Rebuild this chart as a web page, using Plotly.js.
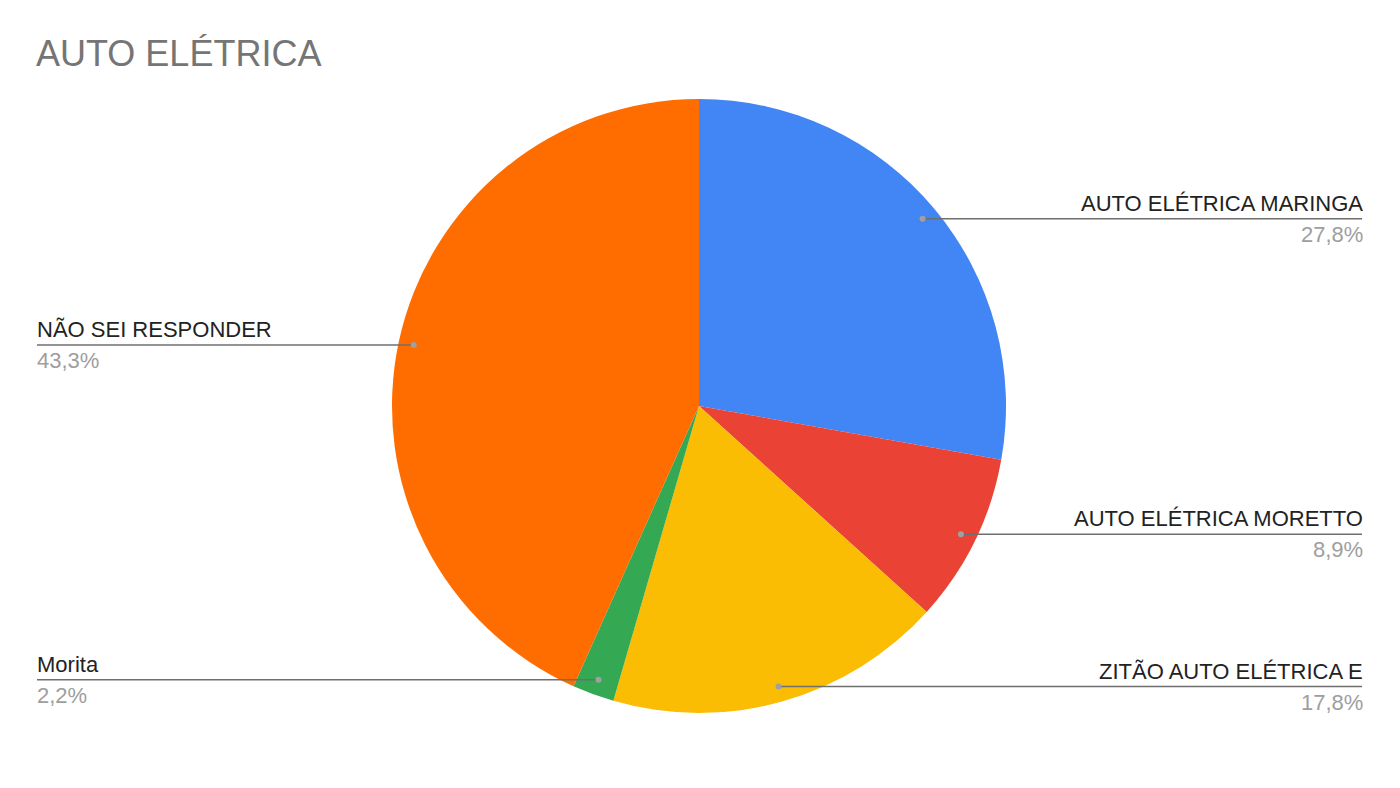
<!DOCTYPE html>
<html>
<head>
<meta charset="utf-8">
<script src="https://cdn.plot.ly/plotly-3.0.1.min.js"></script>
<style>html,body{margin:0;padding:0;background:#fff;}#chart{width:1400px;height:788px;}</style>
</head>
<body>
<div id="chart"></div>
<script>
const categories = ["AUTO ELÉTRICA MARINGA", "AUTO ELÉTRICA MORETTO", "ZITÃO AUTO ELÉTRICA E", "Morita", "NÃO SEI RESPONDER"];
const values = [27.8, 8.9, 17.8, 2.2, 43.3];
const percentLabels = ["27,8%", "8,9%", "17,8%", "2,2%", "43,3%"];
const colors = ["#4285F4", "#EA4335", "#FBBC04", "#34A853", "#FF6D01"];

const W = 1400, H = 788;
const cx = 699, cy = 406, R = 307;
const leftEdge = 37, rightEdge = 1362;
const FONT = "Arial, 'Liberation Sans', sans-serif";

const px = x => x / W;
const py = y => 1 - y / H;

const total = values.reduce((a, b) => a + b, 0);
const annotations = [];
const shapes = [];
let cum = 0;
values.forEach((v, i) => {
  const mid = (cum + v / 2) / total * 2 * Math.PI;
  cum += v;
  const dx = cx + 0.95 * R * Math.sin(mid);
  const dy = cy - 0.95 * R * Math.cos(mid);
  const right = Math.sin(mid) > 0;
  const ex = right ? rightEdge : leftEdge;
  const tx = right ? ex + 3 : ex - 2;
  shapes.push({type: "line", xref: "paper", yref: "paper",
    x0: px(dx), y0: py(dy), x1: px(ex), y1: py(dy),
    line: {color: "#6f6f6f", width: 1.5}});
  shapes.push({type: "circle", xref: "paper", yref: "paper",
    xsizemode: "pixel", ysizemode: "pixel", xanchor: px(dx), yanchor: py(dy),
    x0: -3, x1: 3, y0: -3, y1: 3,
    fillcolor: "#a0a0a0", line: {width: 0}});
  annotations.push({xref: "paper", yref: "paper", x: px(tx), y: py(dy - 1),
    xanchor: right ? "right" : "left", yanchor: "bottom", showarrow: false,
    text: categories[i], font: {family: FONT, size: 22, color: "#222222"}});
  annotations.push({xref: "paper", yref: "paper", x: px(tx), y: py(dy + 1),
    xanchor: right ? "right" : "left", yanchor: "top", showarrow: false,
    text: percentLabels[i], font: {family: FONT, size: 22, color: "#9e9e9e"}});
});

const trace = {
  type: "pie",
  labels: categories,
  values: values,
  sort: false,
  direction: "clockwise",
  rotation: 0,
  marker: {colors: colors, line: {width: 0}},
  textinfo: "none",
  hoverinfo: "label+percent",
  showlegend: false,
  domain: {x: [px(cx - R), px(cx + R)], y: [py(cy + R), py(cy - R)]}
};

const layout = {
  width: W, height: H,
  margin: {l: 0, r: 0, t: 0, b: 0},
  paper_bgcolor: "#ffffff",
  showlegend: false,
  title: {text: "AUTO ELÉTRICA", x: px(36), xanchor: "left", xref: "paper",
    y: py(53), yanchor: "middle", yref: "paper",
    font: {family: FONT, size: 36, color: "#757575"}},
  annotations: annotations,
  shapes: shapes
};

Plotly.newPlot("chart", [trace], layout, {displayModeBar: false, staticPlot: true});
</script>
</body>
</html>
